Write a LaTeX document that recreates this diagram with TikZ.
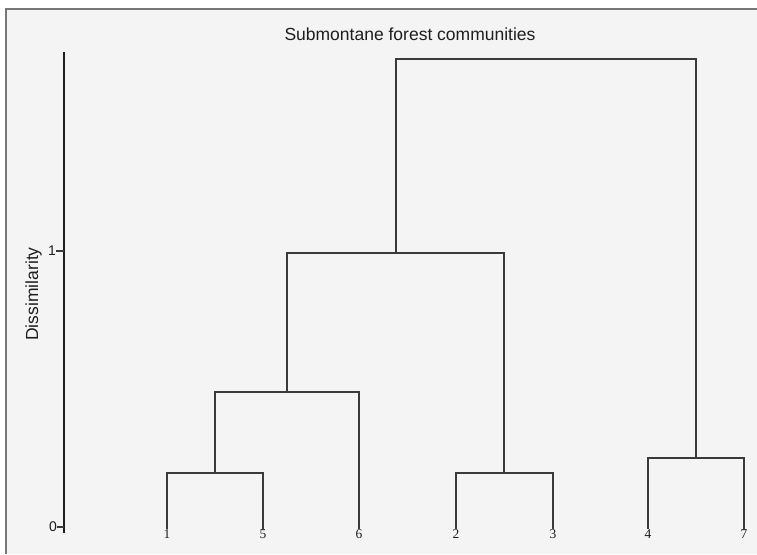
\documentclass[tikz,border=0pt]{standalone}
\usepackage{fontspec}
\setmainfont{Liberation Sans}
\newfontfamily\leaffont{Liberation Serif}
\definecolor{panel}{HTML}{F3F4F3}
\definecolor{framegray}{HTML}{777777}
\definecolor{linegray}{HTML}{3A3A3A}
\definecolor{axisgray}{HTML}{1E1E1E}

\begin{document}
\begin{tikzpicture}[x=1pt,y=-1pt,
        branch/.style={draw=linegray, line width=1.3pt},
        axisline/.style={draw=axisgray, line width=2.5pt},
        leaflab/.style={font=\leaffont\fontsize{13.5}{13.5}\selectfont, inner sep=0pt, anchor=north, text=axisgray},
        ticklab/.style={font=\fontsize{14}{14}\selectfont, inner sep=0pt, anchor=east, text=axisgray}]
        % panel and frame
        \useasboundingbox (0,0) rectangle (757,554);
        \fill[white] (0,0) rectangle (757,554);
        \fill[panel] (6,9) rectangle (757,554);
        \draw[framegray, line width=1.2pt] (6,554) -- (6,9) -- (757,9);

        \node[anchor=base, font=\fontsize{17.5}{20}\selectfont, text=axisgray] (title) at (410,40) {Submontane forest communities};
        \node[anchor=base, rotate=90, font=\fontsize{17.5}{20}\selectfont, text=axisgray] (ylab) at (38,294) {Dissimilarity};

        % axis
        \coordinate (atop) at (64,52);
        \coordinate (abot) at (64,533);
        \draw[axisline] (atop) -- (abot);
        \node[ticklab] (t1) at (56,251) {1};
        \node[ticklab] (t0) at (57,527) {0};
        \draw[branch] (t1.east) -- (t1.east -| atop);
        \draw[branch] (t0.east) -- (t0.east -| atop);

        % leaves
        \node[leaflab] (n1) at (167,529) {1};
        \node[leaflab] (n5) at (263,529) {5};
        \node[leaflab] (n6) at (359,529) {6};
        \node[leaflab] (n2) at (456,529) {2};
        \node[leaflab] (n3) at (553,529) {3};
        \node[leaflab] (n4) at (648,529) {4};
        \node[leaflab] (n7) at (744,529) {7};

        % merges
        \coordinate (m15) at (215,473);
        \coordinate (m23) at (504,473);
        \coordinate (m47) at (696,458);
        \coordinate (m156) at (287,392);
        \coordinate (m12356) at (396,253);
        \coordinate (root) at (546,59);

        \draw[branch] (n1.north) |- (m15) -| (n5.north);
        \draw[branch] (n2.north) |- (m23) -| (n3.north);
        \draw[branch] (n4.north) |- (m47) -| (n7.north);
        \draw[branch] (m15) |- (m156) -| (n6.north);
        \draw[branch] (m156) |- (m12356) -| (m23);
        \draw[branch] (m12356) |- (root) -| (m47);
\end{tikzpicture}
\end{document}
